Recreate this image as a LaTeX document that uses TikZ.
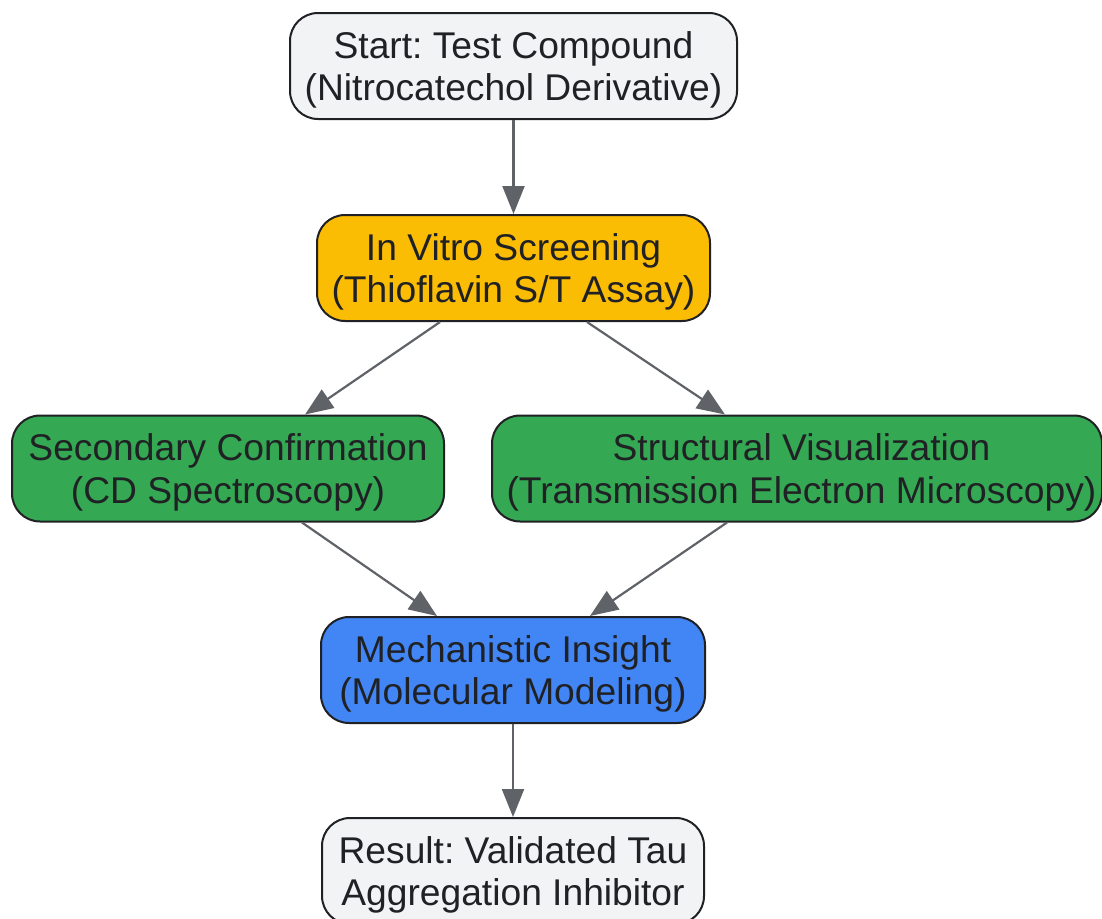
\documentclass[tikz,border=0pt]{standalone}
\usepackage{fontspec}
\setmainfont{Liberation Sans}
\frenchspacing
\usetikzlibrary{arrows.meta,calc}
\definecolor{txt}{HTML}{202124}
\definecolor{edge}{HTML}{5F6368}
\definecolor{gbox}{HTML}{F1F3F4}
\definecolor{ybox}{HTML}{FBBC04}
\definecolor{grbox}{HTML}{34A853}
\definecolor{bbox}{HTML}{4285F4}
\tikzset{
  box/.style={draw=txt, line width=2pt, rounded corners=28pt, inner sep=0pt,
    minimum height=106pt},
  lbl/.style={align=center, text=txt, font=\fontsize{37.2}{42.5}\selectfont, inner sep=0pt},
  conn/.style={draw=edge, line width=2.2pt, -{Triangle[length=28pt,width=22pt]}}
}
\begin{document}
\begin{tikzpicture}[x=1pt,y=-1pt]
\useasboundingbox (0,0) rectangle (1102,918);
\node[box, fill=gbox, minimum width=447pt] (n1) at (513.5,66) {};
\node[box, fill=ybox, minimum width=393pt] (n2) at (513.5,268) {};
\node[box, fill=grbox, minimum width=432pt] (n3) at (228,468.5) {};
\node[box, fill=grbox, minimum width=610pt] (n4) at (797,468.5) {};
\node[box, fill=bbox, minimum width=384pt] (n5) at (513,670) {};
\node[box, fill=gbox, minimum width=382pt] (n6) at (513,871) {};
\node[lbl] (t1) at ([yshift=-4pt]n1.center) {Start: Test Compound\\(Nitrocatechol Derivative)};
\node[lbl] (t2) at ([yshift=-4pt]n2.center) {In Vitro Screening\\(Thioflavin S/T Assay)};
\node[lbl] (t3) at ([yshift=-4pt]n3.center) {Secondary Confirmation\\(CD Spectroscopy)};
\node[lbl] (t4) at ([xshift=4.5pt,yshift=-4pt]n4.center) {Structural Visualization\\(Transmission Electron Microscopy)};
\node[lbl] (t5) at ([yshift=-4pt]n5.center) {Mechanistic Insight\\(Molecular Modeling)};
\node[lbl] (t6) at ([yshift=-4pt]n6.center) {Result: Validated Tau\\Aggregation Inhibitor};
\draw[conn] (n1.south) -- (n2.north);
\draw[conn] ([xshift=-73.5pt]n2.south) -- ([xshift=77pt]n3.north);
\draw[conn] ([xshift=73.5pt]n2.south) -- ([xshift=-72pt]n4.north);
\draw[conn] ([xshift=74pt]n3.south) -- ([xshift=-76pt]n5.north);
\draw[conn] ([xshift=-70pt]n4.south) -- ([xshift=77pt]n5.north);
\draw[conn] (n5.south) -- (n6.north);
\end{tikzpicture}
\end{document}
